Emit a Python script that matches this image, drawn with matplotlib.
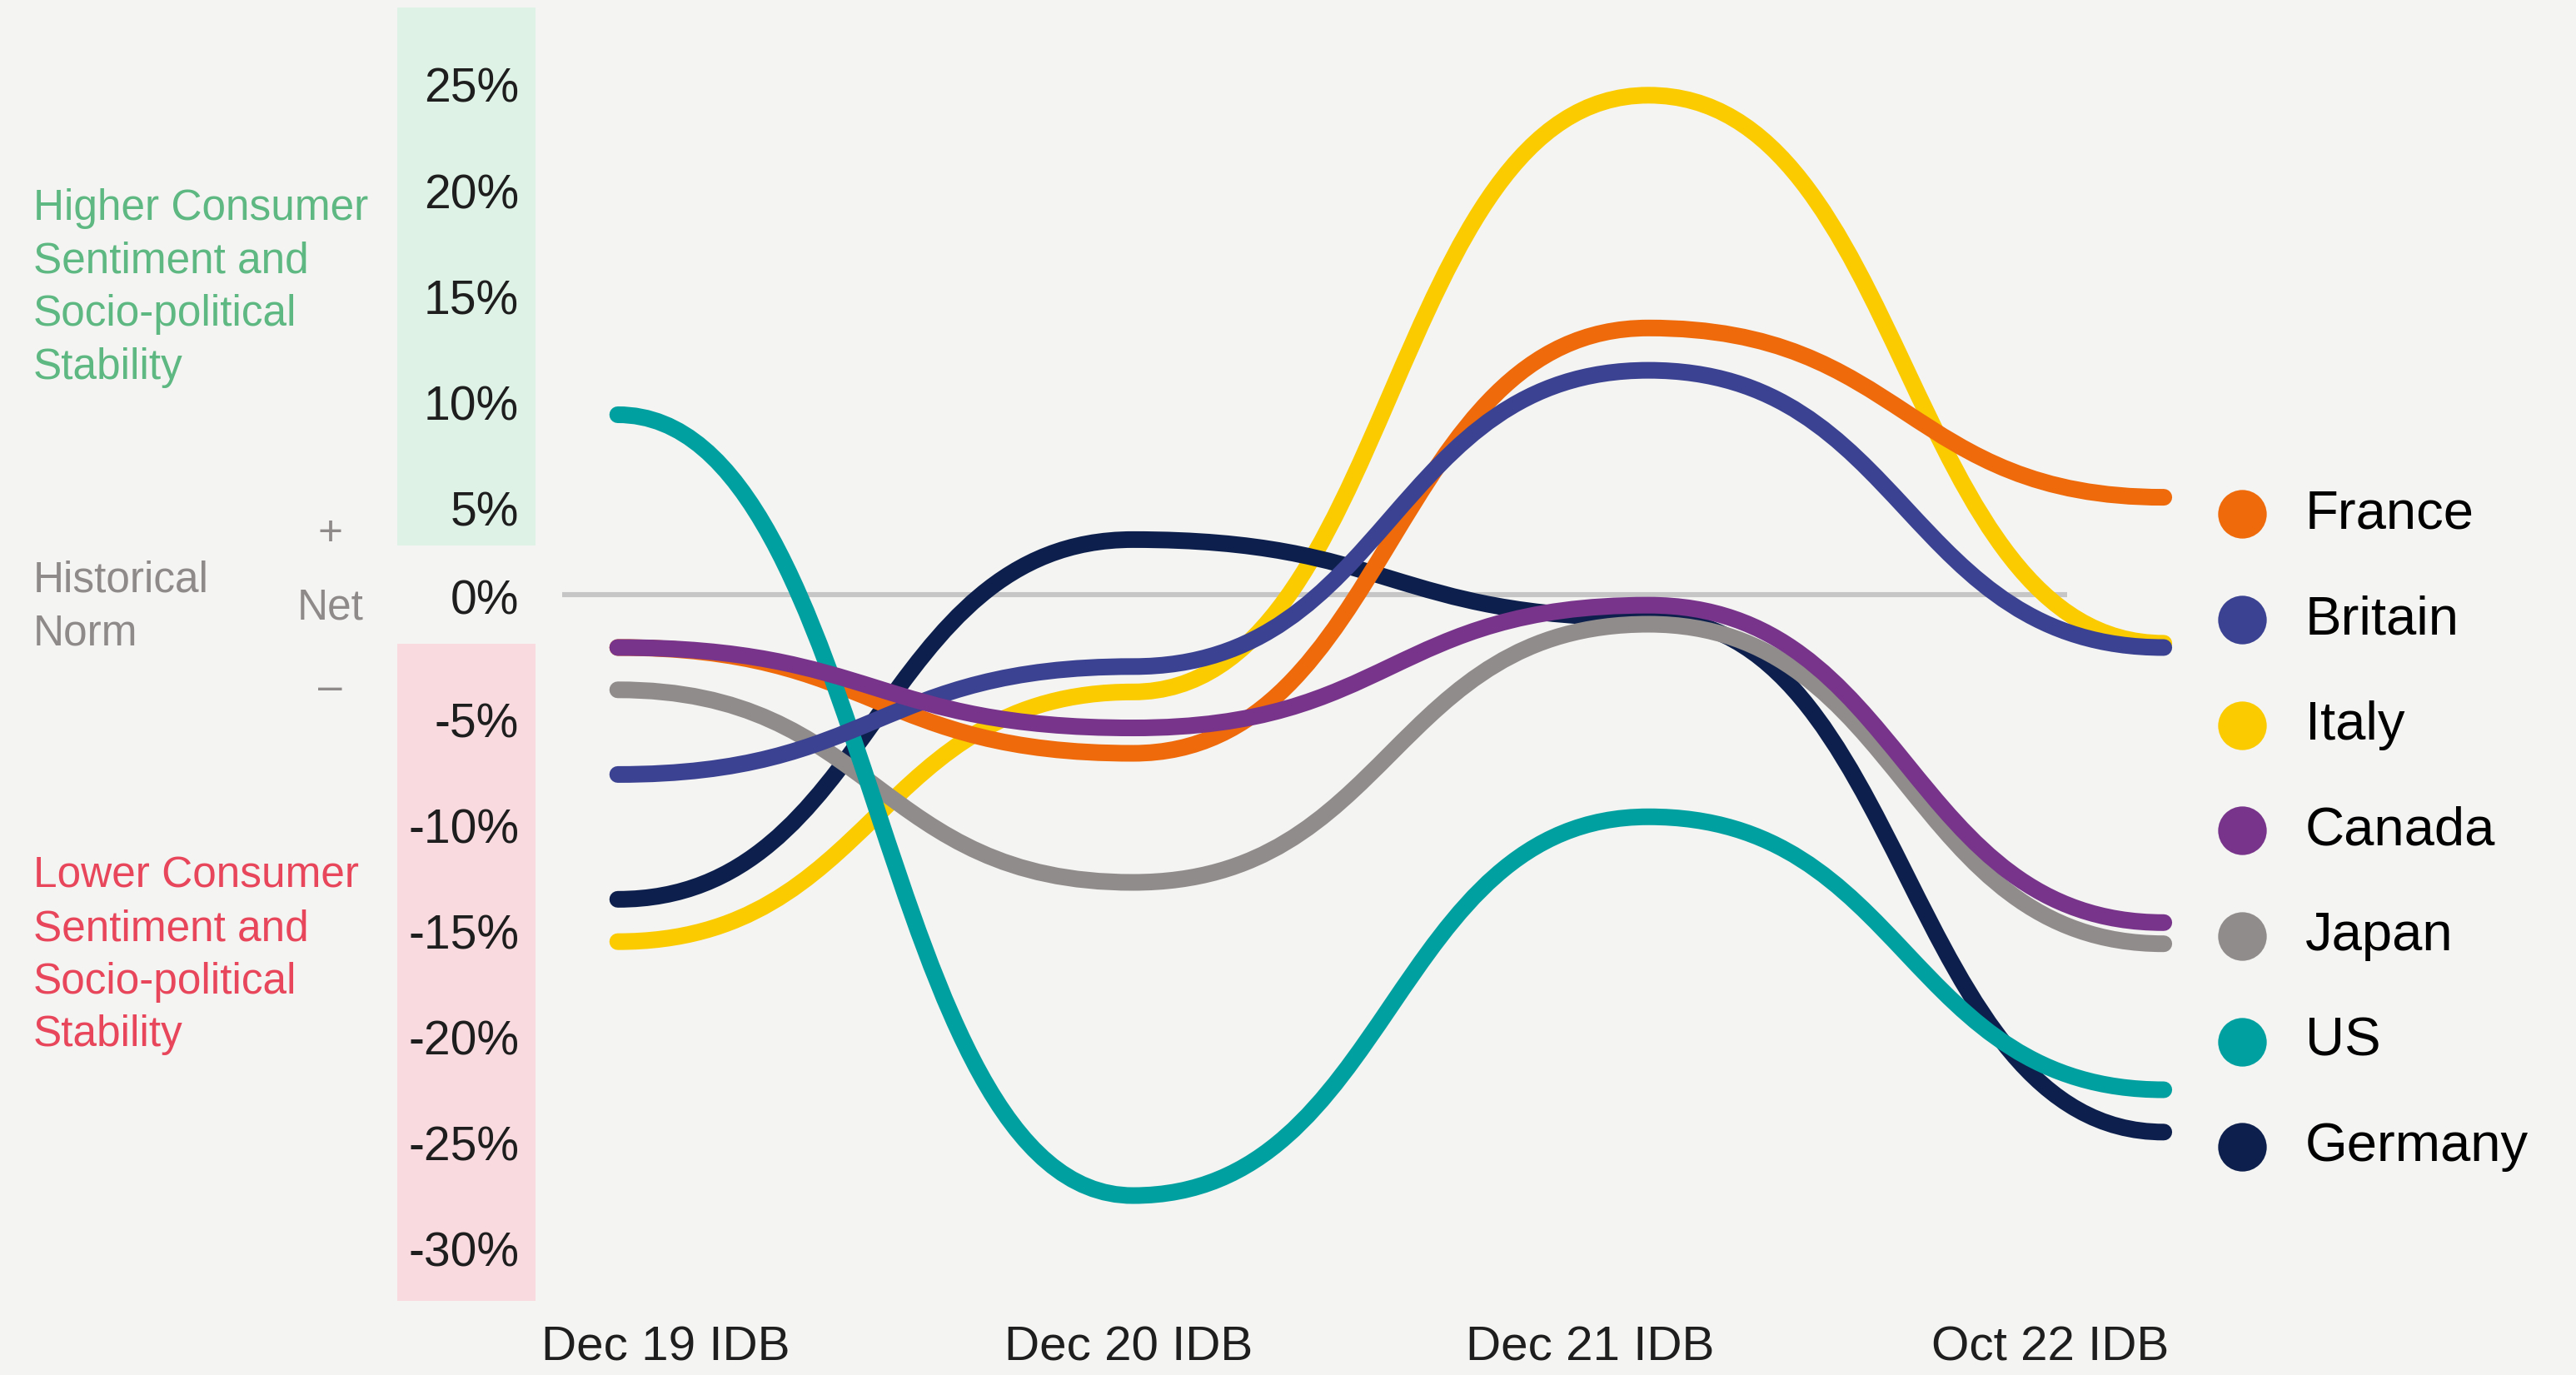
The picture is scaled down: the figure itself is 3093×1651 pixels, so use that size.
import matplotlib
matplotlib.use('Agg')
import matplotlib.pyplot as plt
import matplotlib.transforms as mtransforms
from matplotlib.path import Path
from matplotlib.patches import PathPatch, Rectangle

plt.rcParams['font.family'] = ['Liberation Sans', 'DejaVu Sans']

# ---- data (net %) ----
periods = ['Dec 19 IDB', 'Dec 20 IDB', 'Dec 21 IDB', 'Oct 22 IDB']
countries = ['France', 'Britain', 'Italy', 'Canada', 'Japan', 'US', 'Germany']

france = [-2.5, -7.5, 12.6, 4.6]
britain = [-8.5, -3.4, 10.6, -2.5]
italy = [-16.4, -4.6, 23.6, -2.3]
canada = [-2.5, -6.3, -0.5, -15.5]
japan = [-4.5, -13.6, -1.4, -16.5]
us = [8.5, -28.4, -10.5, -23.4]
germany = [-14.4, 2.6, -1.1, -25.4]

values = {'France': france, 'Britain': britain, 'Italy': italy, 'Canada': canada,
          'Japan': japan, 'US': us, 'Germany': germany}

colors = {'France': '#EE6A0B', 'Britain': '#3B4291', 'Italy': '#FBCB00',
          'Canada': '#77348A', 'Japan': '#908C8B', 'US': '#00A0A0',
          'Germany': '#0D204D'}

draw_order = ['Italy', 'Germany', 'France', 'Japan', 'US', 'Britain', 'Canada']

yticks = [25, 20, 15, 10, 5, 0, -5, -10, -15, -20, -25, -30]

bg = '#F4F4F2'


def bump_path(xs, ys):
    # horizontal-tangent cubic between consecutive points (like d3 curveBumpX)
    verts = [(xs[0], ys[0])]
    codes = [Path.MOVETO]
    for i in range(1, len(xs)):
        xm = (xs[i - 1] + xs[i]) / 2.0
        verts += [(xm, ys[i - 1]), (xm, ys[i]), (xs[i], ys[i])]
        codes += [Path.CURVE4] * 3
    return Path(verts, codes)


fig = plt.figure(figsize=(15.465, 8.255), dpi=200)
fig.patch.set_facecolor(bg)
ax = fig.add_axes([0, 0, 1, 1])
ax.set_facecolor(bg)
ax.set_xlim(-1.1986, 3.7998)
ax.set_ylim(-36.88, 28.1)
ax.axis('off')

xs = list(range(len(periods)))

# bands behind the y labels
ax.add_patch(Rectangle((0.1543, 0.6033), 0.0536, 0.391, transform=ax.transAxes,
                       facecolor='#DFF2E6', edgecolor='none', zorder=0))
ax.add_patch(Rectangle((0.1543, 0.0538), 0.0536, 0.4779, transform=ax.transAxes,
                       facecolor='#F9DADF', edgecolor='none', zorder=0))

# zero line
blend = mtransforms.blended_transform_factory(ax.transAxes, ax.transData)
ax.plot([0.2181, 0.8023], [0, 0], transform=blend, color='#C6C6C6', lw=2.2,
        solid_capstyle='butt', zorder=1)

# y labels (sit just under their value)
for v in yticks:
    off = 0.35 if v == 0 else 1.15
    ax.text(0.2015, v - off, f'{v}%', transform=blend, ha='right', va='center',
            fontsize=20.5, color='#1E1E1E')

# lines
for i, name in enumerate(draw_order):
    p = bump_path(xs, values[name])
    ax.add_patch(PathPatch(p, facecolor='none', edgecolor=colors[name], lw=7.2,
                           capstyle='round', joinstyle='round', zorder=2 + i))

# x labels
for lab, xf in zip(periods, [0.2583, 0.4381, 0.6173, 0.7959]):
    ax.text(xf, 0.0195, lab, transform=ax.transAxes, ha='center', va='center',
            fontsize=21, color='#1E1E1E')

# left annotations
ax.text(0.0128, 0.7905, 'Higher Consumer\nSentiment and\nSocio-political\nStability',
        transform=ax.transAxes, ha='left', va='center', fontsize=18.5,
        color='#5DB882', linespacing=1.38)
ax.text(0.0128, 0.305, 'Lower Consumer\nSentiment and\nSocio-political\nStability',
        transform=ax.transAxes, ha='left', va='center', fontsize=18.5,
        color='#E8475B', linespacing=1.38)
ax.text(0.0128, 0.5585, 'Historical\nNorm', transform=ax.transAxes, ha='left',
        va='center', fontsize=18.5, color='#8F8A8A', linespacing=1.38)
ax.text(0.1282, 0.558, 'Net', transform=ax.transAxes, ha='center', va='center',
        fontsize=18.5, color='#8F8A8A')
ax.text(0.1282, 0.6115, '+', transform=ax.transAxes, ha='center', va='center',
        fontsize=18.5, color='#8F8A8A')
ax.text(0.1282, 0.4994, '\u2013', transform=ax.transAxes, ha='center', va='center',
        fontsize=18.5, color='#8F8A8A')

# legend
for k, name in enumerate(countries):
    yf = 0.626 - k * 0.0767
    ax.plot([0.8705], [yf], 'o', transform=ax.transAxes, ms=21, color=colors[name],
            mec='none', clip_on=False)
    ax.text(0.8948, yf, name, transform=ax.transAxes, ha='left', va='center',
            fontsize=23.5, color='#000000')

fig.savefig('out.png', dpi=200, facecolor=bg)
